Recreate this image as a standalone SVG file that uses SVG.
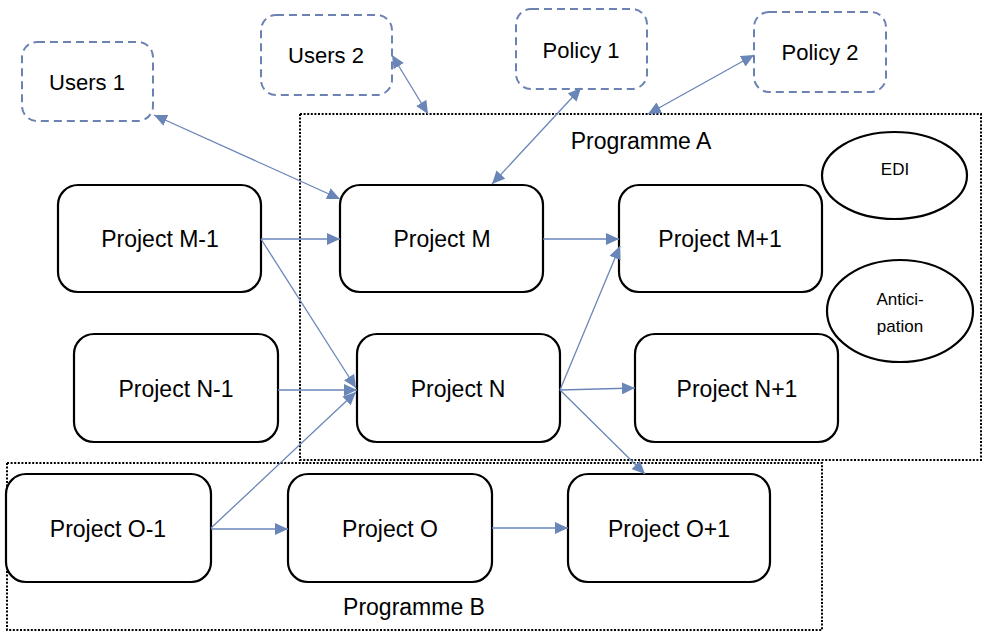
<svg xmlns="http://www.w3.org/2000/svg" width="983" height="631" viewBox="0 0 983 631">
<style>
  .proj{fill:#fff;stroke:#000;stroke-width:2.2}
  .ext{fill:#fff;stroke:#6b82b2;stroke-width:2;stroke-dasharray:8 5}
  .prog{fill:none;stroke:#000;stroke-width:2;stroke-dasharray:2 1.6}
  .ell{fill:#fff;stroke:#000;stroke-width:2.2}
  text{font-family:"Liberation Sans",Arial,sans-serif;fill:#000;text-anchor:middle}
  .t{font-size:23px}
  .u{font-size:22px}
  .s{font-size:17px}
  .c{stroke:#6a86b8;stroke-width:1.3;fill:none}
</style>
<defs>
  <marker id="ah" markerUnits="userSpaceOnUse" markerWidth="14" markerHeight="12" refX="13" refY="6" orient="auto-start-reverse">
    <path d="M0,0 L13,6 L0,12 Z" fill="#6a86b8"/>
  </marker>
</defs>
<rect width="983" height="631" fill="#fff"/>

<g id="programmeA">
  <rect class="prog" x="300" y="114" width="681" height="346"/>
  <text class="t" x="641" y="149">Programme A</text>
</g>
<g id="programmeB">
  <rect class="prog" x="7" y="463" width="815" height="167"/>
  <text class="t" x="414" y="615">Programme B</text>
</g>

<g id="users1"><rect class="ext" x="22" y="42" width="131" height="79" rx="15"/><text class="u" x="87" y="90">Users 1</text></g>
<g id="users2"><rect class="ext" x="261" y="15" width="131" height="80" rx="15"/><text class="u" x="326" y="63">Users 2</text></g>
<g id="policy1"><rect class="ext" x="516" y="9" width="131" height="80" rx="15"/><text class="u" x="581" y="58">Policy 1</text></g>
<g id="policy2"><rect class="ext" x="754" y="12" width="132" height="80" rx="15"/><text class="u" x="820" y="60">Policy 2</text></g>

<g id="edi"><ellipse class="ell" cx="894.5" cy="175.5" rx="72.5" ry="43.5"/><text class="s" x="895" y="175">EDI</text></g>
<g id="anticipation"><ellipse class="ell" cx="900" cy="311" rx="73" ry="51"/><text class="s" x="900" y="305">Antici-</text><text class="s" x="900" y="332">pation</text></g>

<g id="projectM-1"><rect class="proj" x="58" y="185" width="203" height="107" rx="20"/><text class="t" x="160" y="247">Project M-1</text></g>
<g id="projectM"><rect class="proj" x="340" y="185" width="203" height="107" rx="20"/><text class="t" x="442" y="247">Project M</text></g>
<g id="projectM+1"><rect class="proj" x="619" y="185" width="203" height="107" rx="20"/><text class="t" x="720" y="247">Project M+1</text></g>
<g id="projectN-1"><rect class="proj" x="74" y="334" width="204" height="108" rx="20"/><text class="t" x="176" y="397">Project N-1</text></g>
<g id="projectN"><rect class="proj" x="357" y="334" width="203" height="108" rx="20"/><text class="t" x="458" y="397">Project N</text></g>
<g id="projectN+1"><rect class="proj" x="635" y="334" width="203" height="108" rx="20"/><text class="t" x="737" y="397">Project N+1</text></g>
<g id="projectO-1"><rect class="proj" x="6" y="474" width="205" height="108" rx="20"/><text class="t" x="108" y="537">Project O-1</text></g>
<g id="projectO"><rect class="proj" x="288" y="474" width="204" height="108" rx="20"/><text class="t" x="390" y="537">Project O</text></g>
<g id="projectO+1"><rect class="proj" x="568" y="474" width="202" height="108" rx="20"/><text class="t" x="669" y="537">Project O+1</text></g>

<g id="connectors">
  <line class="c" x1="154" y1="115" x2="340" y2="199" marker-start="url(#ah)" marker-end="url(#ah)"/>
  <line class="c" x1="392" y1="55" x2="428" y2="114" marker-start="url(#ah)" marker-end="url(#ah)"/>
  <line class="c" x1="581" y1="88" x2="492" y2="184" marker-start="url(#ah)" marker-end="url(#ah)"/>
  <line class="c" x1="754" y1="55" x2="648" y2="114" marker-start="url(#ah)" marker-end="url(#ah)"/>
  <line class="c" x1="261" y1="239" x2="340" y2="239" marker-end="url(#ah)"/>
  <line class="c" x1="261" y1="239" x2="356" y2="388" marker-end="url(#ah)"/>
  <line class="c" x1="278" y1="390" x2="357" y2="390" marker-end="url(#ah)"/>
  <line class="c" x1="211" y1="528" x2="356" y2="392" marker-end="url(#ah)"/>
  <line class="c" x1="211" y1="529" x2="288" y2="529" marker-end="url(#ah)"/>
  <line class="c" x1="543" y1="239" x2="619" y2="239" marker-end="url(#ah)"/>
  <line class="c" x1="560" y1="390" x2="620" y2="246" marker-end="url(#ah)"/>
  <line class="c" x1="560" y1="390" x2="635" y2="388" marker-end="url(#ah)"/>
  <line class="c" x1="560" y1="390" x2="645" y2="474" marker-end="url(#ah)"/>
  <line class="c" x1="492" y1="528" x2="568" y2="528" marker-end="url(#ah)"/>
</g>
</svg>
